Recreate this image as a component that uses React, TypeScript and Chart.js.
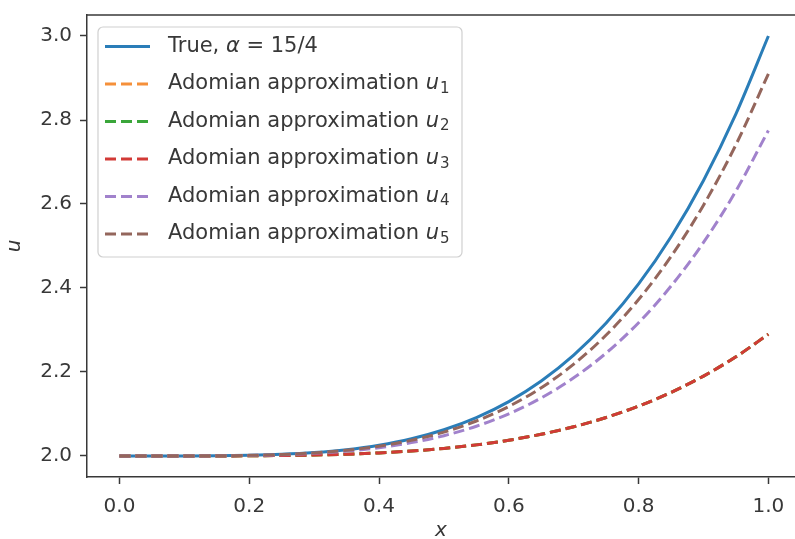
import { useEffect, useRef } from "react";
import { Chart, registerables } from "chart.js";

Chart.register(...registerables);

const xValues = [0, 0.05, 0.1, 0.15, 0.2, 0.25, 0.3, 0.35, 0.4, 0.45, 0.5, 0.55, 0.6, 0.65, 0.7, 0.75, 0.8, 0.85, 0.9, 0.95, 1.0];
const trueU = [2.0, 2.0, 2.0001, 2.0005, 2.0016, 2.0039, 2.0081, 2.015, 2.0256, 2.041, 2.0625, 2.0915, 2.1296, 2.1785, 2.2401, 2.3164, 2.4096, 2.522, 2.6561, 2.8145, 3.0];
const u1 = [2.0, 2.0, 2.0, 2.0001, 2.0005, 2.0011, 2.0023, 2.0044, 2.0074, 2.0119, 2.0181, 2.0265, 2.0376, 2.0518, 2.0696, 2.0918, 2.1188, 2.1514, 2.1903, 2.2362, 2.29];
const u2 = [2.0, 2.0, 2.0, 2.0001, 2.0005, 2.0011, 2.0023, 2.0044, 2.0074, 2.0119, 2.0181, 2.0265, 2.0376, 2.0518, 2.0696, 2.0918, 2.1188, 2.1514, 2.1903, 2.2362, 2.29];
const u3 = [2.0, 2.0, 2.0, 2.0001, 2.0005, 2.0011, 2.0023, 2.0044, 2.0074, 2.0119, 2.0181, 2.0265, 2.0376, 2.0518, 2.0696, 2.0918, 2.1188, 2.1514, 2.1903, 2.2362, 2.29];
const u4 = [2.0, 2.0, 2.0001, 2.0004, 2.0012, 2.003, 2.0063, 2.0116, 2.0198, 2.0318, 2.0484, 2.0709, 2.1004, 2.1383, 2.1861, 2.2452, 2.3174, 2.4046, 2.5085, 2.6312, 2.775];
const u5 = [2.0, 2.0, 2.0001, 2.0005, 2.0015, 2.0036, 2.0074, 2.0137, 2.0233, 2.0373, 2.0569, 2.0833, 2.118, 2.1625, 2.2186, 2.288, 2.3727, 2.475, 2.5972, 2.7413, 2.91];

const xTicks = [0, 0.2, 0.4, 0.6, 0.8, 1.0];
const yTicks = [2.0, 2.2, 2.4, 2.6, 2.8, 3.0];

type Seg = { t: string; it?: boolean; sub?: boolean };
const seriesLabels: Seg[][] = [
  [{ t: "True, " }, { t: "α", it: true }, { t: " = 15/4" }],
  [{ t: "Adomian approximation " }, { t: "u", it: true }, { t: "1", sub: true }],
  [{ t: "Adomian approximation " }, { t: "u", it: true }, { t: "2", sub: true }],
  [{ t: "Adomian approximation " }, { t: "u", it: true }, { t: "3", sub: true }],
  [{ t: "Adomian approximation " }, { t: "u", it: true }, { t: "4", sub: true }],
  [{ t: "Adomian approximation " }, { t: "u", it: true }, { t: "5", sub: true }],
];
const seriesColors = ["#2a7db8", "#f5903a", "#3aa63a", "#d23a36", "#a182cc", "#94665c"];
const seriesDashed = [false, true, true, true, true, true];

const FONT = '"DejaVu Sans", Verdana, sans-serif';
const TEXT = "#383838";
const DASH = [11, 5];

const framePlugin = {
  id: "frame",
  afterDraw(chart: any) {
    const { ctx, chartArea } = chart;
    ctx.save();
    ctx.strokeStyle = "#383838";
    ctx.lineWidth = 1.5;
    ctx.beginPath();
    ctx.moveTo(chartArea.left, chartArea.top);
    ctx.lineTo(chartArea.right, chartArea.top);
    ctx.stroke();
    ctx.restore();
  },
};

const legendPlugin = {
  id: "mplLegend",
  afterDatasetsDraw(chart: any) {
    const { ctx, chartArea } = chart;
    const bx = chartArea.left + 11;
    const by = chartArea.top + 12;
    const bw = 364;
    const bh = 230;
    ctx.save();
    ctx.beginPath();
    if (ctx.roundRect) ctx.roundRect(bx, by, bw, bh, 5);
    else ctx.rect(bx, by, bw, bh);
    ctx.fillStyle = "rgba(255,255,255,0.8)";
    ctx.fill();
    ctx.strokeStyle = "#d0d0d0";
    ctx.lineWidth = 1.2;
    ctx.stroke();

    const rowY0 = by + 19.5;
    const step = 37.5;
    seriesLabels.forEach((segs, i) => {
      const y = rowY0 + i * step;
      ctx.beginPath();
      ctx.strokeStyle = seriesColors[i];
      ctx.lineWidth = 3;
      ctx.setLineDash(seriesDashed[i] ? DASH : []);
      ctx.moveTo(bx + 7, y);
      ctx.lineTo(bx + 52, y);
      ctx.stroke();
      ctx.setLineDash([]);

      let x = bx + 70;
      ctx.fillStyle = TEXT;
      ctx.textBaseline = "middle";
      ctx.textAlign = "left";
      segs.forEach((s) => {
        if (s.sub) {
          ctx.font = `15px ${FONT}`;
          ctx.fillText(s.t, x + 1, y + 5);
          x += ctx.measureText(s.t).width + 1;
        } else {
          ctx.font = `${s.it ? "italic " : ""}21px ${FONT}`;
          ctx.fillText(s.t, x, y);
          x += ctx.measureText(s.t).width;
        }
      });
    });
    ctx.restore();
  },
};

export default function App() {
  const ref = useRef<HTMLCanvasElement>(null);
  useEffect(() => {
    document.body.style.margin = "0";
    const canvas = ref.current;
    if (!canvas) return;
    const all = [trueU, u1, u2, u3, u4, u5];
    const datasets = all.map((ys, i) => ({
      label: seriesLabels[i].map((s) => s.t).join(""),
      data: xValues.map((x, j) => ({ x, y: ys[j] })),
      borderColor: seriesColors[i],
      backgroundColor: seriesColors[i],
      borderWidth: 3,
      borderDash: seriesDashed[i] ? DASH : [],
      pointRadius: 0,
      cubicInterpolationMode: "monotone" as const,
      fill: false,
      order: all.length - i,
    }));
    const chart = new Chart(canvas, {
      type: "line",
      data: { datasets },
      options: {
        animation: false,
        responsive: false,
        devicePixelRatio: 1,
        layout: { padding: { top: 15, right: 0, left: 0, bottom: 0 } },
        plugins: { legend: { display: false }, tooltip: { enabled: false } },
        scales: {
          x: {
            type: "linear",
            min: -0.05,
            max: 1.041,
            afterBuildTicks: (s: any) => {
              s.ticks = xTicks.map((v) => ({ value: v }));
            },
            afterFit: (s: any) => {
              s.height = 62;
              s.paddingRight = 0;
            },
            ticks: {
              font: { family: FONT, size: 20 },
              color: TEXT,
              padding: 11,
              maxRotation: 0,
              callback: (v: any) => Number(v).toFixed(1),
            },
            grid: { drawOnChartArea: false, drawTicks: true, tickLength: 7, tickColor: "#383838", tickWidth: 1.5 },
            border: { display: true, color: "#383838", width: 1.5 },
            title: {
              display: true,
              text: "x",
              font: { family: FONT, size: 20, style: "italic", lineHeight: 0.8 },
              color: TEXT,
              padding: { top: 0, bottom: 0 },
            },
          },
          y: {
            type: "linear",
            min: 1.95,
            max: 3.05,
            afterBuildTicks: (s: any) => {
              s.ticks = yTicks.map((v) => ({ value: v }));
            },
            afterFit: (s: any) => {
              s.width = 87;
              s.paddingTop = 0;
              s.paddingBottom = 0;
            },
            ticks: {
              font: { family: FONT, size: 20 },
              color: TEXT,
              padding: 8,
              callback: (v: any) => Number(v).toFixed(1),
            },
            grid: { drawOnChartArea: false, drawTicks: true, tickLength: 7, tickColor: "#383838", tickWidth: 1.5 },
            border: { display: true, color: "#383838", width: 1.5 },
            title: {
              display: true,
              text: "u",
              font: { family: FONT, size: 20, style: "italic" },
              color: TEXT,
              padding: { top: 3, bottom: 0 },
            },
          },
        },
      },
      plugins: [framePlugin, legendPlugin],
    });
    return () => chart.destroy();
  }, []);
  return (
    <div style={{ width: 795, height: 539, overflow: "hidden" }}>
      <canvas ref={ref} width={795} height={539} style={{ display: "block" }} />
    </div>
  );
}
